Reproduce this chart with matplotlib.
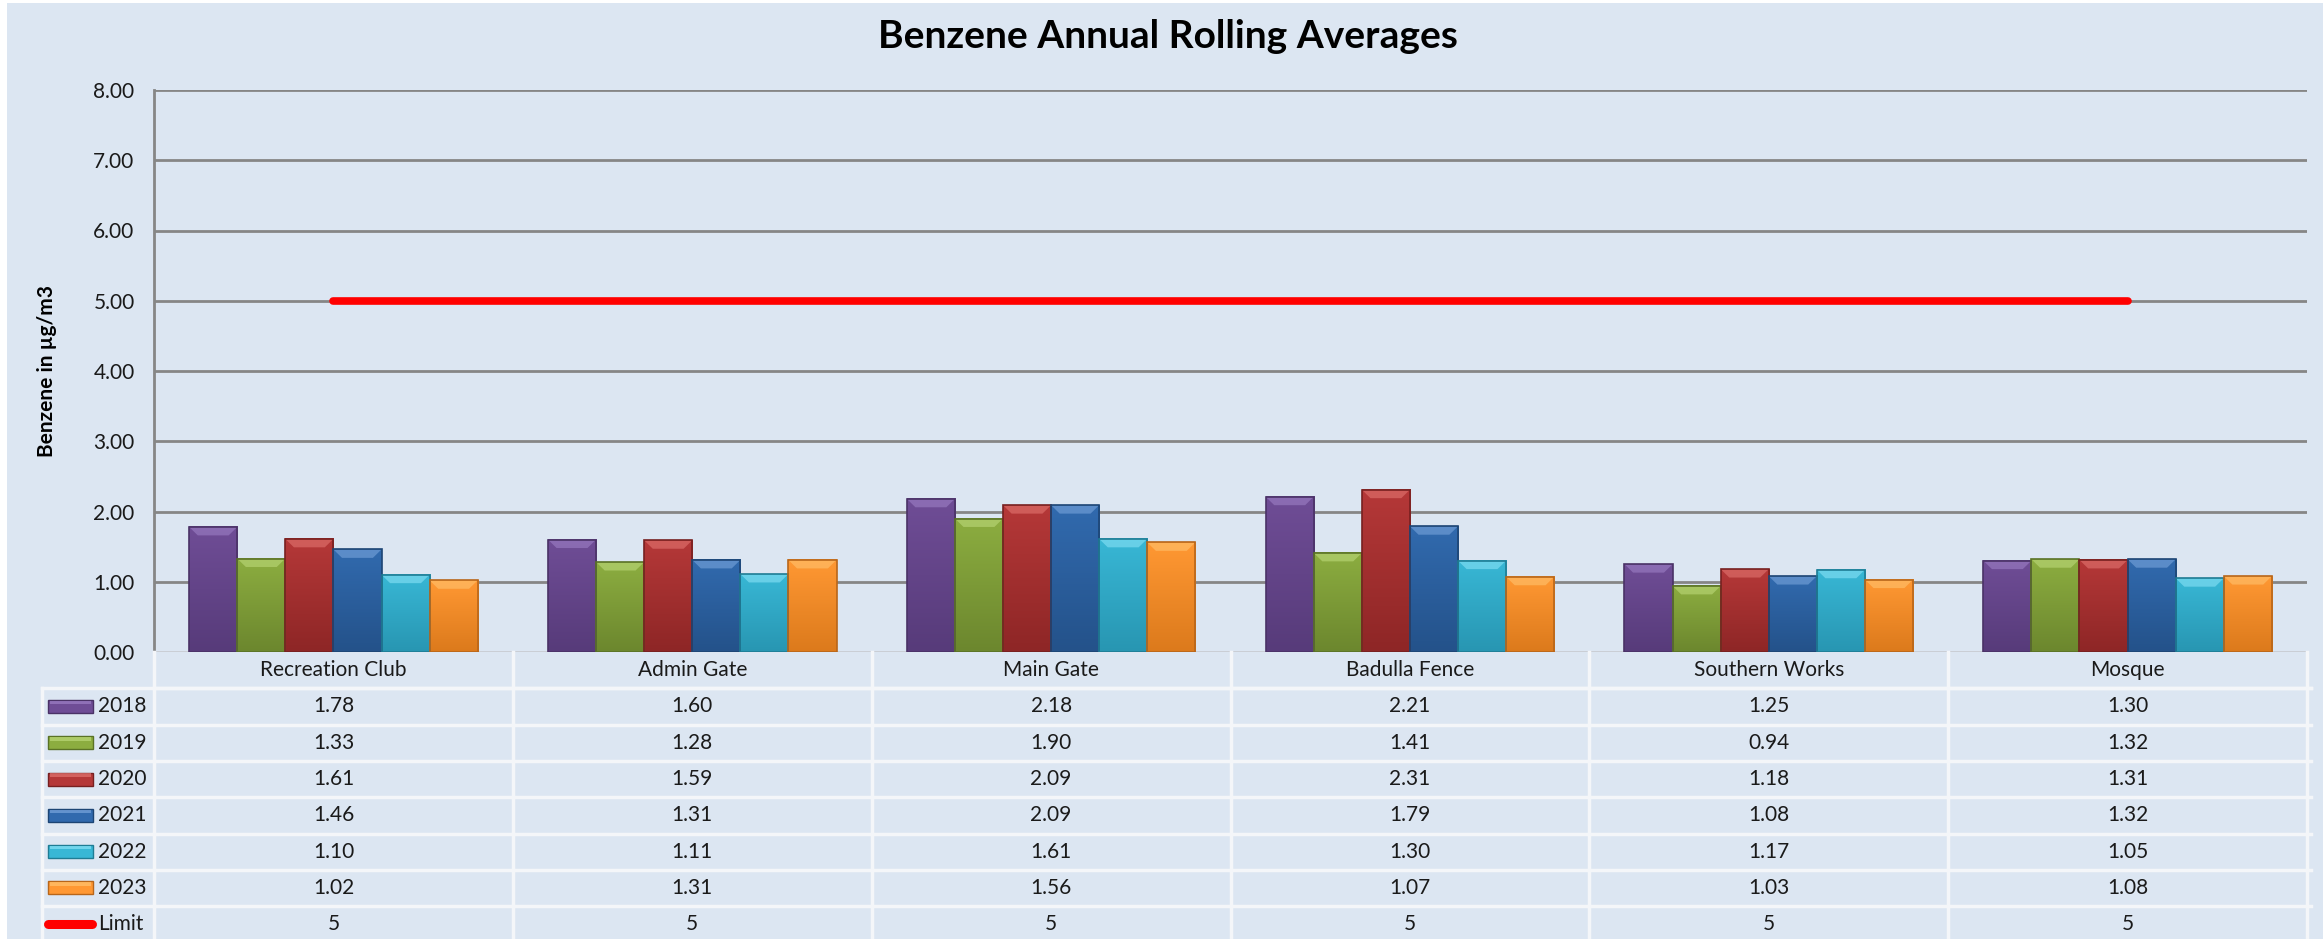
import matplotlib
matplotlib.use("Agg")
import matplotlib.pyplot as plt
import numpy as np
from matplotlib.patches import Rectangle, Polygon
from matplotlib.lines import Line2D
from matplotlib.colors import LinearSegmentedColormap

categories = ["Recreation Club", "Admin Gate", "Main Gate", "Badulla Fence", "Southern Works", "Mosque"]
years = ["2018", "2019", "2020", "2021", "2022", "2023"]
v2018 = [1.78, 1.60, 2.18, 2.21, 1.25, 1.30]
v2019 = [1.33, 1.28, 1.90, 1.41, 0.94, 1.32]
v2020 = [1.61, 1.59, 2.09, 2.31, 1.18, 1.31]
v2021 = [1.46, 1.31, 2.09, 1.79, 1.08, 1.32]
v2022 = [1.10, 1.11, 1.61, 1.30, 1.17, 1.05]
v2023 = [1.02, 1.31, 1.56, 1.07, 1.03, 1.08]
limit = [5, 5, 5, 5, 5, 5]
yticks = [0, 1, 2, 3, 4, 5, 6, 7, 8]

series = [v2018, v2019, v2020, v2021, v2022, v2023]
top_c = ["#6f4d96", "#8cad40", "#b53838", "#316aae", "#38b7d5", "#ff9833"]
bot_c = ["#573b7a", "#6c872e", "#8e2626", "#24528a", "#2896b2", "#dc7a1c"]
light = ["#9d80c6", "#bcd97a", "#e27571", "#79a5dc", "#88e2f6", "#ffc36f"]
dark = ["#4a3266", "#5a7226", "#772020", "#1d4574", "#1f7c94", "#b8661a"]

W, H = 2323, 939
fig = plt.figure(figsize=(W / 100, H / 100), dpi=100)
fig.patch.set_facecolor("white")
BG = "#dce6f2"
fig.add_artist(Rectangle((7 / W, 0), 1, 1 - 3 / H, transform=fig.transFigure,
                         facecolor=BG, edgecolor="none", zorder=-10))

FONT = "Lato"
TXT = "#1a1a1a"
GRID = "#868686"
FS = 15

left_px, right_px, top_px, bot_px = 154, 2307, 90, 652
ax = fig.add_axes([left_px / W, 1 - bot_px / H, (right_px - left_px) / W, (bot_px - top_px) / H])
ax.set_facecolor("none")
ncat = len(categories)
x = np.arange(ncat)

bw = 0.134
bev_h = 0.12
bev_dx = 0.024
grad = np.linspace(1, 0, 64).reshape(-1, 1)
for i, vals in enumerate(series):
    cm = LinearSegmentedColormap.from_list(f"g{i}", [bot_c[i], top_c[i]])
    xs = x + (i - 2.5) * bw
    for xc, v in zip(xs, vals):
        x0, x1 = xc - bw / 2, xc + bw / 2
        ax.imshow(grad, extent=[x0, x1, 0, v], aspect="auto", cmap=cm, vmin=0, vmax=1,
                  zorder=2, interpolation="bilinear")
        ax.add_patch(Polygon([[x0, v], [x1, v], [x1 - bev_dx, v - bev_h], [x0 + bev_dx, v - bev_h]],
                             closed=True, facecolor=light[i], edgecolor="none", alpha=0.6, zorder=3))
    ax.bar(xs, vals, width=bw, facecolor="none", edgecolor=dark[i], linewidth=1.2, zorder=4)

ax.plot(x, limit, color="#ff0000", lw=5.5, solid_capstyle="round", zorder=5)

ax.set_xlim(-0.5, ncat - 0.5)
ax.set_ylim(0, 8)
ax.set_yticks(yticks)
ax.set_yticklabels([f"{t:.2f}" for t in yticks], fontsize=FS, family=FONT, color=TXT)
ax.tick_params(axis="y", length=0, pad=14)
ax.set_xticks([])
for s in ["top", "right", "bottom"]:
    ax.spines[s].set_visible(False)
ax.spines["left"].set_color(GRID)
ax.spines["left"].set_linewidth(2)
for t in yticks[1:]:
    ax.axhline(t, color=GRID, lw=2, zorder=0)
ax.axhline(0, color="#c8ccd2", lw=2, zorder=1)

fig.text(1168 / W, 1 - 37 / H, "Benzene Annual Rolling Averages",
         ha="center", va="center", fontsize=28, fontweight="bold", family=FONT, color="black")
fig.text(47 / W, 1 - 371 / H, "Benzene in µg/m3", rotation=90, ha="center", va="center",
         fontsize=15, fontweight="bold", family=FONT, color="black")

# ---- data table ----
row_h = 36.3
tab_h = H - bot_px
tab = fig.add_axes([left_px / W, 0, (right_px - left_px) / W, tab_h / H])
tab.set_xlim(-0.5, ncat - 0.5)
tab.set_ylim(tab_h / row_h, 0)
tab.axis("off")
cw = (right_px - left_px) / ncat
leg_left = -0.5 - (left_px - 42) / cw
LINE = "#f4f6f9"
nrows = len(years) + 1
tab.plot([-0.5, ncat - 0.5 + 0.01], [1, 1], color=LINE, lw=2.5, clip_on=False)
for r in range(1, nrows + 2):
    tab.plot([leg_left, ncat - 0.5 + 0.01], [r, r], color=LINE, lw=2.5, clip_on=False)
for c in range(ncat + 1):
    tab.plot([c - 0.5, c - 0.5], [0, nrows + 1], color=LINE, lw=2.5, clip_on=False)
tab.plot([leg_left, leg_left], [1, nrows + 1], color=LINE, lw=2.5, clip_on=False)

for j, c in enumerate(categories):
    tab.text(j, 0.5, c, ha="center", va="center", fontsize=FS, family=FONT, color=TXT)
sw0 = -0.5 - (left_px - 48) / cw
sw1 = -0.5 - (left_px - 93) / cw
lab_x = -0.5 - (left_px - 98) / cw
for i, (yr, vals) in enumerate(zip(years, series)):
    r = 1.5 + i
    tab.add_patch(Rectangle((sw0, r - 0.18), sw1 - sw0, 0.36, facecolor=top_c[i],
                            edgecolor=dark[i], lw=1, clip_on=False))
    tab.add_patch(Rectangle((sw0 + 0.006, r - 0.16), sw1 - sw0 - 0.012, 0.1, facecolor=light[i],
                            edgecolor="none", alpha=0.7, clip_on=False))
    tab.text(lab_x, r, yr, ha="left", va="center", fontsize=FS, family=FONT, color=TXT, clip_on=False)
    for j, v in enumerate(vals):
        tab.text(j, r, f"{v:.2f}", ha="center", va="center", fontsize=FS, family=FONT, color=TXT)
r = 1.5 + len(years)
sl0 = -0.5 - (left_px - 48) / cw
sl1 = -0.5 - (left_px - 92) / cw
tab.add_artist(Line2D([sl0, sl1], [r, r], color="#ff0000", lw=6.5,
                      solid_capstyle="round", clip_on=False))
tab.text(lab_x, r, "Limit", ha="left", va="center", fontsize=FS, family=FONT, color=TXT, clip_on=False)
for j, v in enumerate(limit):
    tab.text(j, r, f"{v}", ha="center", va="center", fontsize=FS, family=FONT, color=TXT)

fig.savefig("out.png", dpi=100, facecolor="white")
